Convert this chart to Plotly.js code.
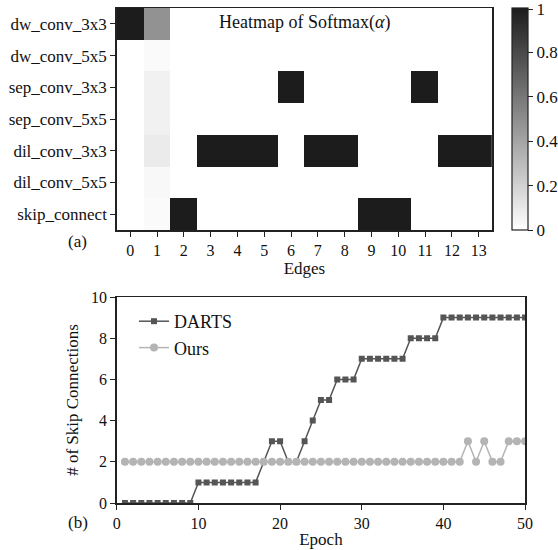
<!DOCTYPE html>
<html>
<head>
<meta charset="utf-8">
<script src="https://cdn.plot.ly/plotly-3.0.1.min.js"></script>
<style>html,body{margin:0;padding:0;background:#fff;}#chart{width:558px;height:550px;}</style>
</head>
<body>
<div id="chart"></div>
<script>
// Heatmap data
const edges = [0,1,2,3,4,5,6,7,8,9,10,11,12,13];
const ops = ['dw_conv_3x3','dw_conv_5x5','sep_conv_3x3','sep_conv_5x5','dil_conv_3x3','dil_conv_5x5','skip_connect'];
const row_dw_conv_3x3  = [1, 0.48, 0, 0, 0, 0, 0, 0, 0, 0, 0, 0, 0, 0];
const row_dw_conv_5x5  = [0, 0.02, 0, 0, 0, 0, 0, 0, 0, 0, 0, 0, 0, 0];
const row_sep_conv_3x3 = [0, 0.06, 0, 0, 0, 0, 1, 0, 0, 0, 0, 1, 0, 0];
const row_sep_conv_5x5 = [0, 0.06, 0, 0, 0, 0, 0, 0, 0, 0, 0, 0, 0, 0];
const row_dil_conv_3x3 = [0, 0.09, 0, 1, 1, 1, 0, 1, 1, 0, 0, 0, 1, 1];
const row_dil_conv_5x5 = [0, 0.03, 0, 0, 0, 0, 0, 0, 0, 0, 0, 0, 0, 0];
const row_skip_connect = [0, 0.02, 1, 0, 0, 0, 0, 0, 0, 1, 1, 0, 0, 0];
const cbTickVals = [0, 0.2, 0.4, 0.6, 0.8, 0.995];
const cbTickText = ['0', '0.2', '0.4', '0.6', '0.8', '1'];

// Line chart data
const epochs = [1,2,3,4,5,6,7,8,9,10,11,12,13,14,15,16,17,18,19,20,21,22,23,24,25,26,27,28,29,30,31,32,33,34,35,36,37,38,39,40,41,42,43,44,45,46,47,48,49,50];
const darts = [0,0,0,0,0,0,0,0,0,1,1,1,1,1,1,1,1,2,3,3,2,2,3,4,5,5,6,6,6,7,7,7,7,7,7,8,8,8,8,9,9,9,9,9,9,9,9,9,9,9];
const ours  = [2,2,2,2,2,2,2,2,2,2,2,2,2,2,2,2,2,2,2,2,2,2,2,2,2,2,2,2,2,2,2,2,2,2,2,2,2,2,2,2,2,2,3,2,3,2,2,3,3,3];

const W = 558, H = 550;
const px = v => v / W, py = v => 1 - v / H;
const FONT = '"Liberation Serif", "Times New Roman", serif';
const axisCol = '#222';

const heat = {
  type: 'heatmap',
  x: edges, y: ops,
  z: [row_dw_conv_3x3,row_dw_conv_5x5,row_sep_conv_3x3,row_sep_conv_5x5,row_dil_conv_3x3,row_dil_conv_5x5,row_skip_connect],
  zmin: 0, zmax: 1,
  colorscale: [[0,'#ffffff'],[1,'#1c1c1c']],
  xaxis: 'x', yaxis: 'y',
  hoverinfo: 'skip',
  colorbar: {
    x: px(512), xanchor: 'left', xref: 'paper',
    y: py(8), yanchor: 'top', yref: 'paper',
    len: (230-8)/H, lenmode: 'fraction',
    thickness: 16, thicknessmode: 'pixels',
    xpad: 0, ypad: 0,
    outlinewidth: 1.2, outlinecolor: axisCol,
    ticks: 'outside', ticklen: 5, tickcolor: axisCol,
    tickmode: 'array', tickvals: cbTickVals, ticktext: cbTickText,
    ticklabeloverflow: 'allow',
    tickfont: {family: FONT, size: 17, color: '#111'}
  }
};

const tDarts = {
  type: 'scatter', mode: 'lines+markers', name: 'DARTS',
  x: epochs, y: darts, xaxis: 'x2', yaxis: 'y2',
  line: {color: '#555555', width: 1.5},
  marker: {symbol: 'square', size: 6, color: '#555555'}
};
const tOurs = {
  type: 'scatter', mode: 'lines+markers', name: 'Ours',
  x: epochs, y: ours, xaxis: 'x2', yaxis: 'y2',
  line: {color: '#b4b4b4', width: 1.5},
  marker: {symbol: 'circle', size: 8, color: '#b4b4b4'}
};

const baseAxis = {
  showline: true, linecolor: axisCol, linewidth: 1.5, mirror: true,
  ticks: 'outside', ticklen: 5, tickcolor: axisCol, tickwidth: 1,
  showgrid: false, zeroline: false,
  tickfont: {family: FONT, size: 16, color: '#111'}
};

const layout = {
  width: W, height: H,
  margin: {l: 0, r: 0, t: 0, b: 0},
  paper_bgcolor: '#ffffff', plot_bgcolor: '#ffffff',
  font: {family: FONT, color: '#111'},
  showlegend: true,
  legend: {
    x: px(134), y: py(303), xanchor: 'left', yanchor: 'top',
    bgcolor: 'rgba(0,0,0,0)', font: {family: FONT, size: 18, color: '#111'},
    itemwidth: 30, tracegroupgap: 0
  },
  xaxis: Object.assign({}, baseAxis, {
    domain: [px(117), px(493)], anchor: 'y',
    range: [-0.5, 13.5], tickvals: edges, ticktext: edges.map(String),
    title: {text: 'Edges', font: {family: FONT, size: 17, color: '#111'}, standoff: 0}
  }),
  yaxis: Object.assign({}, baseAxis, {
    domain: [py(230), py(8)], anchor: 'x',
    type: 'category', autorange: 'reversed',
    tickfont: {family: FONT, size: 17, color: '#111'}
  }),
  xaxis2: Object.assign({}, baseAxis, {
    domain: [px(117), px(526)], anchor: 'y2',
    range: [0, 50], dtick: 10, tick0: 0,
    title: {text: 'Epoch', font: {family: FONT, size: 17, color: '#111'}, standoff: 2}
  }),
  yaxis2: Object.assign({}, baseAxis, {
    domain: [py(503), py(297)], anchor: 'x2',
    range: [0, 10], dtick: 2, tick0: 0,
    title: {text: '# of Skip Connections', font: {family: FONT, size: 17, color: '#111'}, standoff: 8}
  }),
  annotations: [
    {text: 'Heatmap of Softmax(<i>α</i>)', xref: 'paper', yref: 'paper', x: px(305), y: py(22),
     xanchor: 'center', yanchor: 'middle', showarrow: false, font: {family: FONT, size: 18, color: '#111'}},
    {text: '(a)', xref: 'paper', yref: 'paper', x: px(78), y: py(241),
     xanchor: 'center', yanchor: 'middle', showarrow: false, font: {family: FONT, size: 17, color: '#111'}},
    {text: '(b)', xref: 'paper', yref: 'paper', x: px(78), y: py(522),
     xanchor: 'center', yanchor: 'middle', showarrow: false, font: {family: FONT, size: 17, color: '#111'}}
  ]
};

Plotly.newPlot('chart', [heat, tDarts, tOurs], layout, {staticPlot: true, displayModeBar: false});
</script>
</body>
</html>
